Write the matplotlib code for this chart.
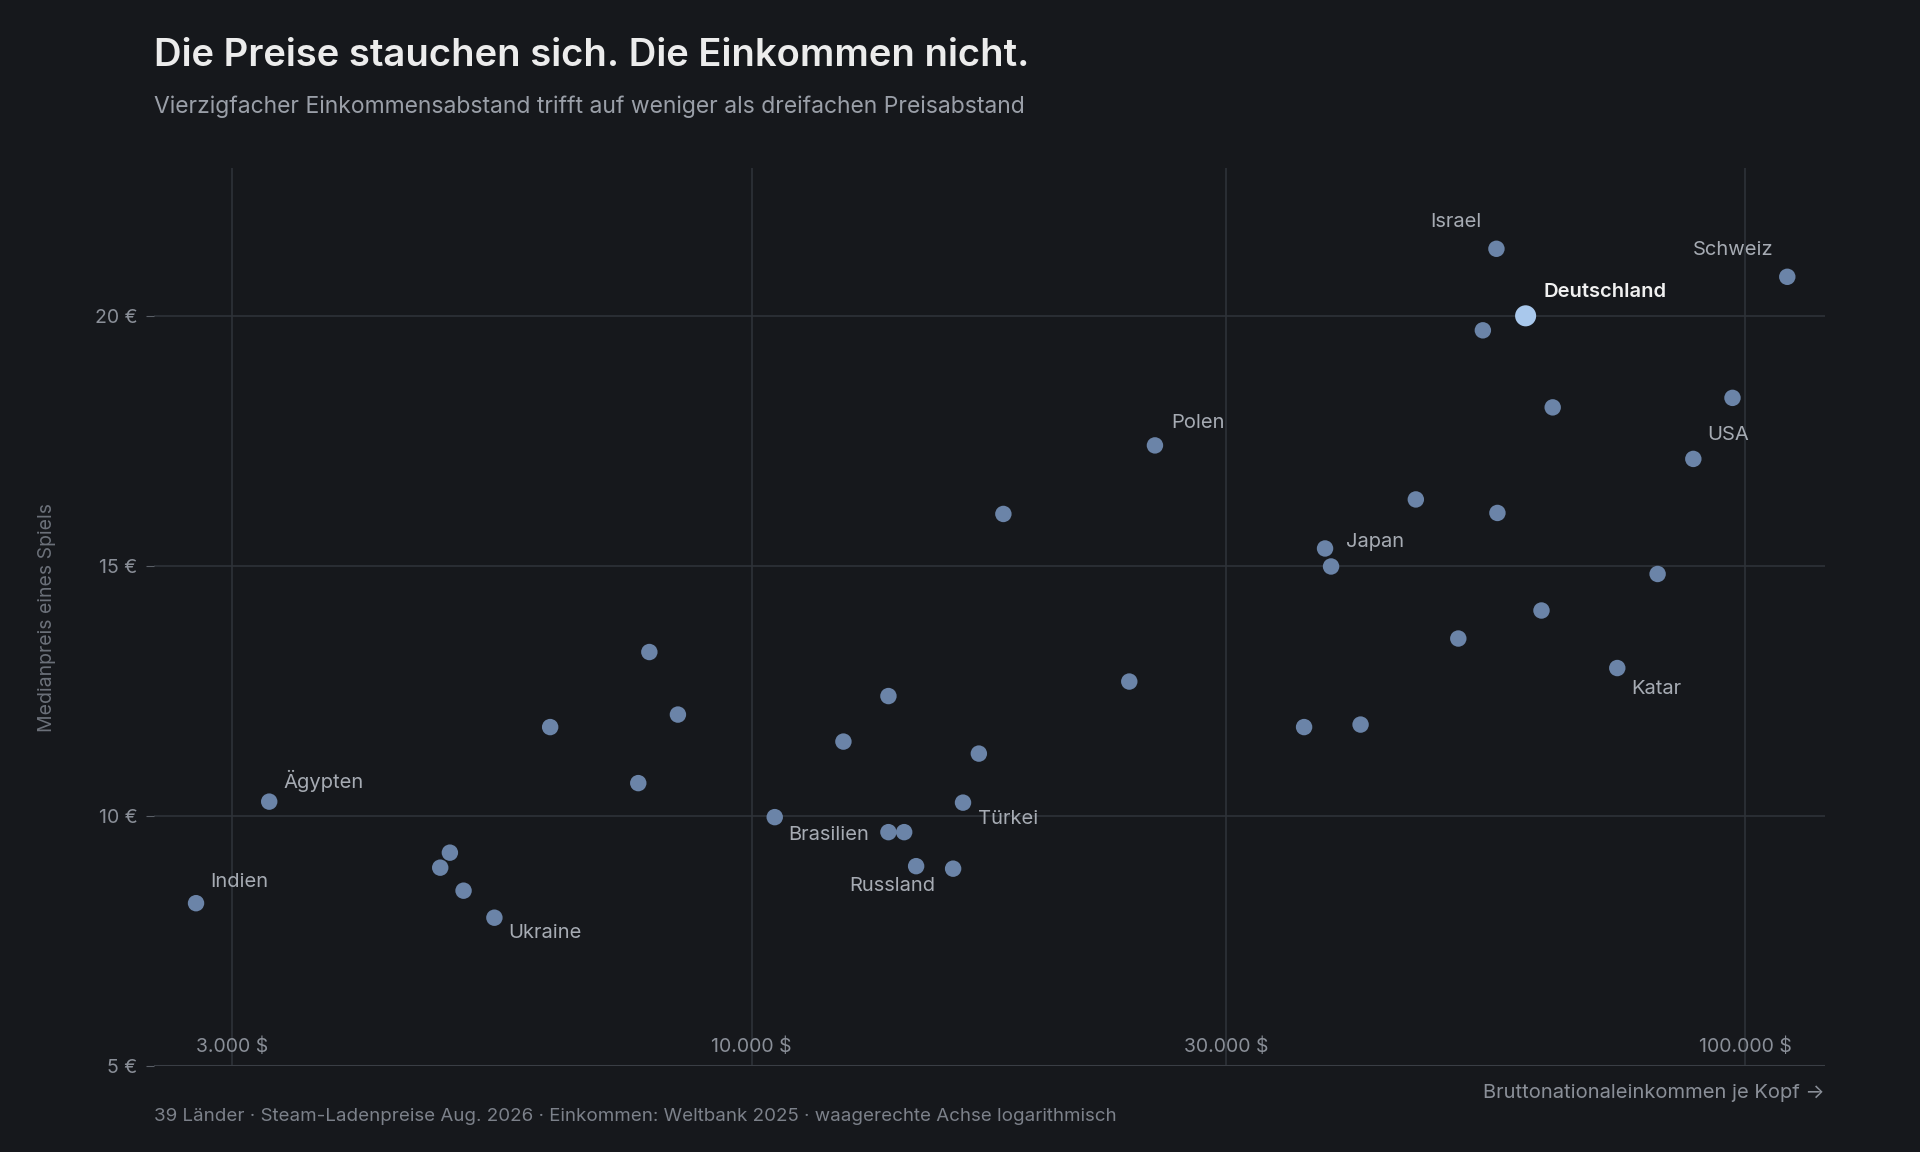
import matplotlib.pyplot as plt
import matplotlib.transforms as mtransforms

plt.rcParams['font.family'] = ['Inter', 'DejaVu Sans']

# GNI per capita in $, median game price in €
gni = [2760, 3270, 4860, 4970, 5130, 5510, 6270, 7690, 7890, 8430,
       10550, 12370, 13730, 13730, 14240, 14640, 15950, 16320, 16930, 17920,
       23990, 25460, 35970, 37760, 38290, 41000, 46600, 51420, 54430, 56170,
       56300, 60100, 62350, 63990, 74320, 81600, 88640, 97060, 110200]
price = [8.26, 10.29, 8.97, 9.27, 8.51, 7.97, 11.78, 10.66, 13.28, 12.03,
         9.98, 11.49, 12.40, 9.68, 9.68, 9.00, 8.95, 10.27, 11.25, 16.04,
         12.69, 17.41, 11.78, 15.35, 14.99, 11.83, 16.33, 13.55, 19.71, 21.34,
         16.06, 20.00, 14.11, 18.17, 12.96, 14.84, 17.14, 18.36, 20.78]
names = {0: "Indien", 1: "Ägypten", 5: "Ukraine", 10: "Brasilien", 15: "Russland",
         17: "Türkei", 21: "Polen", 23: "Japan", 29: "Israel", 31: "Deutschland",
         34: "Katar", 36: "USA", 38: "Schweiz"}
label_offsets = {0: (10, 15), 1: (10, 15), 5: (10, -11), 10: (10, -13), 15: (-48, -14),
                 17: (11, -12), 21: (12, 16), 23: (15, 5), 29: (-48, 19), 31: (13, 17),
                 34: (10, -15), 36: (10, 17), 38: (-68, 19)}
x_ticks = [3000, 10000, 30000, 100000]
x_tick_labels = ["3.000 $", "10.000 $", "30.000 $", "100.000 $"]
y_ticks = [5, 10, 15, 20]

bg = "#16181c"
grid = "#2e3238"
fig = plt.figure(figsize=(19.2, 11.52), dpi=100, facecolor=bg)
ax = fig.add_axes([0.0804, 0.0744, 0.870, 0.780], facecolor=bg)
ax.set_xscale("log")
ax.set_xlim(2506, 120200)
ax.set_ylim(5, 22.96)

for t in x_ticks:
    ax.axvline(t, color=grid, lw=1.2, zorder=0)
for t in y_ticks[1:]:
    ax.axhline(t, color=grid, lw=1.2, zorder=0)
for s in ax.spines.values():
    s.set_visible(False)
ax.axhline(5, color="#3a3e45", lw=1.5, zorder=1)

ax.set_xticks([])
ax.set_xticks([], minor=True)
ax.set_yticks(y_ticks)
ax.set_yticklabels([f"{t} €" for t in y_ticks], color="#8a8f98", fontsize=14)
ax.tick_params(axis="y", length=6, color="#5a5f66", pad=6)
trans = mtransforms.blended_transform_factory(ax.transData, ax.transAxes)
for t, lab in zip(x_ticks, x_tick_labels):
    ax.text(t, 0.012, lab, transform=trans, ha="center", va="bottom",
            color="#8a8f98", fontsize=14)

cols = ["#a9c8ec" if i == 31 else "#6b84a8" for i in range(len(gni))]
sizes = [230 if i == 31 else 140 for i in range(len(gni))]
ax.scatter(gni, price, s=sizes, c=cols, zorder=3, linewidths=0)

for i, name in names.items():
    dx, dy = label_offsets[i]
    bold = i == 31
    ax.annotate(name, (gni[i], price[i]), xytext=(dx, dy), textcoords="offset points",
                ha="left", va="center", fontsize=14.5,
                color="#f0f0f0" if bold else "#a6abb3",
                fontweight="semibold" if bold else "normal")

ax.set_ylabel("Medianpreis eines Spiels", color="#6c717a", fontsize=14, labelpad=28)
fig.text(0.9503, 0.051, "Bruttonationaleinkommen je Kopf →", ha="right", va="center",
         color="#8a8f98", fontsize=14.5)
fig.text(0.0804, 0.031, "39 Länder · Steam-Ladenpreise Aug. 2026 · Einkommen: Weltbank 2025 · waagerechte Achse logarithmisch",
         ha="left", va="center", color="#7c818a", fontsize=13.5)
fig.text(0.0804, 0.951, "Die Preise stauchen sich. Die Einkommen nicht.", ha="left", va="center",
         color="#ececec", fontsize=27.5, fontweight="semibold")
fig.text(0.0804, 0.907, "Vierzigfacher Einkommensabstand trifft auf weniger als dreifachen Preisabstand",
         ha="left", va="center", color="#9a9fa8", fontsize=16.5)

fig.savefig("out.png", dpi=100, facecolor=bg)
